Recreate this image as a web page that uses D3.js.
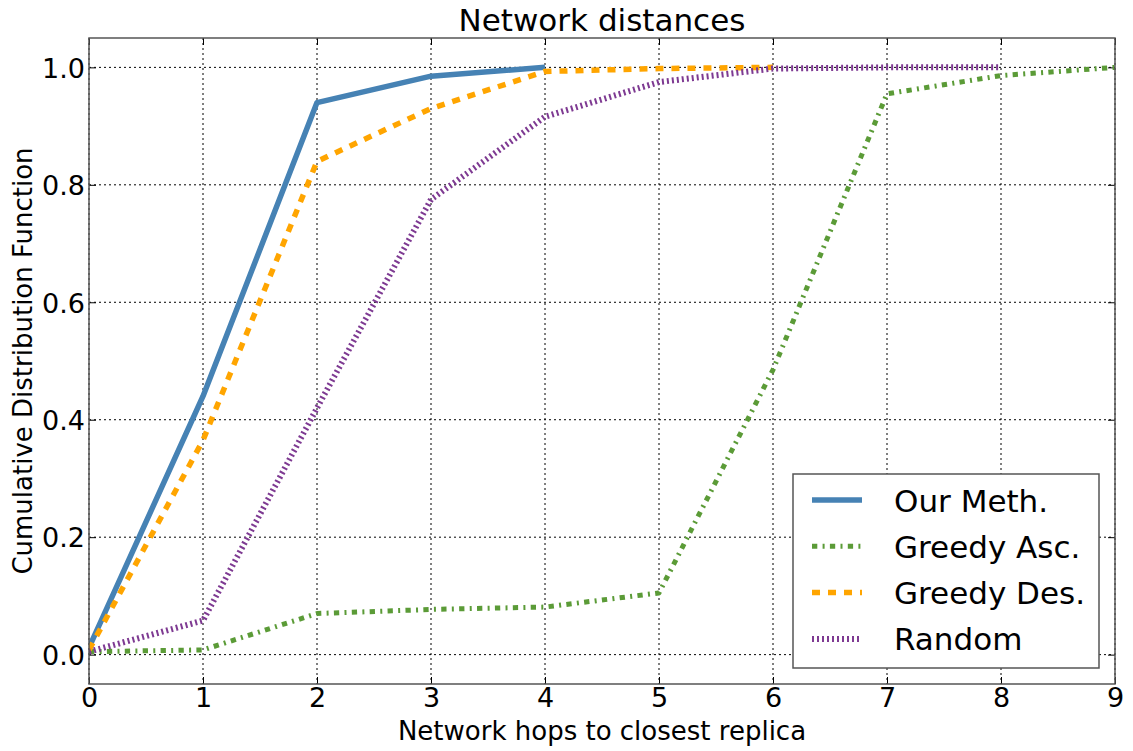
<!DOCTYPE html>
<html>
<head>
<meta charset="utf-8">
<script src="https://d3js.org/d3.v7.min.js"></script>
<style>
  body { margin: 0; background: #fff; }
  text { font-family: "DejaVu Sans", sans-serif; fill: #000; }
</style>
</head>
<body>
<div id="chart"></div>
<script>
// values
const hops = [0, 1, 2, 3, 4, 5, 6, 7, 8, 9]
const ourMeth = [0.012, 0.44, 0.94, 0.985, 1.0]
const greedyAsc = [0.005, 0.008, 0.07, 0.077, 0.081, 0.105, 0.485, 0.955, 0.986, 1.0]
const greedyDes = [0.008, 0.365, 0.84, 0.93, 0.993, 0.998, 1.0]
const random = [0.005, 0.058, 0.42, 0.775, 0.916, 0.975, 0.998, 1.0, 1.0]
const xTicks = [0, 1, 2, 3, 4, 5, 6, 7, 8, 9]
const yTicks = [0.0, 0.2, 0.4, 0.6, 0.8, 1.0]

const series = [
  { name: "Our Meth.", values: ourMeth, color: "#4682b4", width: 5.5, dash: null },
  { name: "Greedy Asc.", values: greedyAsc, color: "#5b9b37", width: 5, dash: "5.3,5.3,2,5.3" },
  { name: "Greedy Des.", values: greedyDes, color: "#ffa500", width: 5.5, dash: "8,8" },
  { name: "Random", values: random, color: "#7e3a92", width: 6, dash: "2,3" }
]

const W = 1133, H = 751
const m = { left: 89, right: 1115, top: 38, bottom: 684 }

const svg = d3.select("#chart").append("svg")
  .attr("width", W)
  .attr("height", H)

const x = d3.scaleLinear().domain([0, 9]).range([m.left, m.right])
const y = d3.scaleLinear().domain([-0.05, 1.05]).range([m.bottom, m.top])

svg.append("defs").append("clipPath").attr("id", "clip")
  .append("rect")
    .attr("x", m.left).attr("y", m.top)
    .attr("width", m.right - m.left).attr("height", m.bottom - m.top)

// grid
const grid = svg.append("g")
grid.selectAll(".gx").data(xTicks).enter().append("line")
  .attr("x1", d => x(d)).attr("x2", d => x(d))
  .attr("y1", m.top).attr("y2", m.bottom)
grid.selectAll(".gy").data(yTicks).enter().append("line")
  .attr("x1", m.left).attr("x2", m.right)
  .attr("y1", d => y(d)).attr("y2", d => y(d))
grid.selectAll("line")
  .attr("stroke", "#000")
  .attr("stroke-width", 1)
  .attr("stroke-dasharray", "2,3")

// axes with inward ticks on every side
const tickLen = 7
const xb = svg.append("g").attr("transform", `translate(0,${m.bottom})`)
  .call(d3.axisBottom(x).tickValues(xTicks).tickSizeInner(-tickLen).tickSizeOuter(0).tickPadding(14).tickFormat(d3.format("d")))
const xt = svg.append("g").attr("transform", `translate(0,${m.top})`)
  .call(d3.axisTop(x).tickValues(xTicks).tickSizeInner(-tickLen).tickSizeOuter(0).tickFormat(""))
const yl = svg.append("g").attr("transform", `translate(${m.left},0)`)
  .call(d3.axisLeft(y).tickValues(yTicks).tickSizeInner(-tickLen).tickSizeOuter(0).tickPadding(8).tickFormat(d3.format(".1f")))
const yr = svg.append("g").attr("transform", `translate(${m.right},0)`)
  .call(d3.axisRight(y).tickValues(yTicks).tickSizeInner(-tickLen).tickSizeOuter(0).tickFormat(""))

;[xb, xt, yl, yr].forEach(g => {
  g.select(".domain").remove()
  g.selectAll(".tick line").attr("stroke", "#000").attr("stroke-width", 1)
  g.selectAll(".tick text")
    .style("font-family", "DejaVu Sans")
    .style("font-size", "27px")
    .attr("fill", "#000")
})
yl.selectAll(".tick text").attr("dy", "0.36em").attr("x", -4)
xb.selectAll(".tick text").attr("dy", "0.72em").attr("y", 4)

// lines
const line = d3.line()
  .x((d, i) => x(hops[i]))
  .y(d => y(d))

const plot = svg.append("g").attr("clip-path", "url(#clip)")
plot.selectAll("path").data(series).enter().append("path")
  .attr("d", d => line(d.values))
  .attr("fill", "none")
  .attr("stroke", d => d.color)
  .attr("stroke-width", d => d.width)
  .attr("stroke-dasharray", d => d.dash)
  .attr("stroke-linejoin", "round")

// frame
svg.append("rect")
  .attr("x", m.left).attr("y", m.top)
  .attr("width", m.right - m.left).attr("height", m.bottom - m.top)
  .attr("fill", "none")
  .attr("stroke", "#555")
  .attr("stroke-width", 1.5)

// titles
svg.append("text")
  .attr("x", (m.left + m.right) / 2).attr("y", 31)
  .attr("text-anchor", "middle")
  .style("font-size", "31px")
  .text("Network distances")

svg.append("text")
  .attr("x", (m.left + m.right) / 2).attr("y", 740)
  .attr("text-anchor", "middle")
  .style("font-size", "26px")
  .text("Network hops to closest replica")

svg.append("text")
  .attr("transform", `translate(32,${(m.top + m.bottom) / 2}) rotate(-90)`)
  .attr("text-anchor", "middle")
  .style("font-size", "26px")
  .text("Cumulative Distribution Function")

// legend
const legend = svg.append("g")
legend.append("rect")
  .attr("x", 793).attr("y", 474)
  .attr("width", 306).attr("height", 194)
  .attr("fill", "#fff")
  .attr("stroke", "#555")
  .attr("stroke-width", 1.5)

const rows = legend.selectAll(".row").data(series).enter().append("g")
  .attr("transform", (d, i) => `translate(0,${500 + i * 46.3})`)
rows.append("line")
  .attr("x1", 812).attr("x2", 862)
  .attr("y1", 0).attr("y2", 0)
  .attr("stroke", d => d.color)
  .attr("stroke-width", d => d.width)
  .attr("stroke-dasharray", d => d.dash)
rows.append("text")
  .attr("x", 894).attr("y", 11.5)
  .style("font-size", "31px")
  .text(d => d.name)
</script>
</body>
</html>
